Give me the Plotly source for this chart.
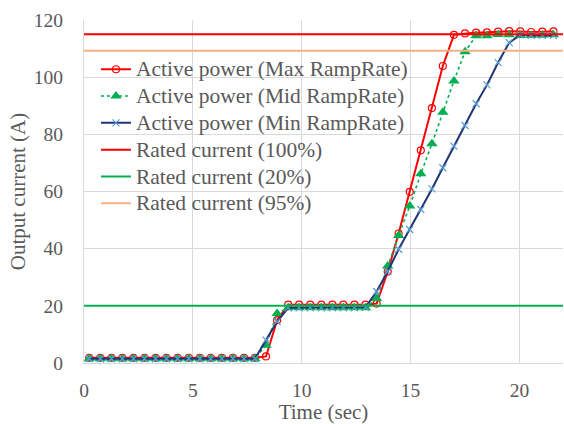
import plotly.graph_objects as go

# Sample times (s), shared by the three ramp-rate runs
time_s = [0.24, 0.75, 1.26, 1.76, 2.27, 2.78, 3.29, 3.79, 4.30, 4.81,
          5.32, 5.82, 6.33, 6.84, 7.35, 7.85, 8.36, 8.87, 9.38, 9.88,
          10.39, 10.90, 11.41, 11.91, 12.42, 12.93, 13.44, 13.95, 14.45, 14.96,
          15.47, 15.98, 16.48, 16.99, 17.50, 18.01, 18.51, 19.02, 19.53, 20.04,
          20.54, 21.05, 21.56]

# Output current (A) for each ramp rate
max_ramp = [1.8, 1.8, 1.8, 1.8, 1.8, 1.8, 1.8, 1.8, 1.8, 1.8,
            1.8, 1.8, 1.8, 1.8, 1.8, 1.8, 2.3, 15.0, 20.4, 20.4,
            20.4, 20.4, 20.4, 20.4, 20.4, 20.4, 20.8, 32.0, 45.3, 59.9,
            74.4, 89.2, 103.9, 114.8, 115.3, 115.6, 115.7, 115.9, 116.1, 116.0,
            115.8, 115.9, 116.0]
mid_ramp = [1.5, 1.5, 1.5, 1.5, 1.5, 1.5, 1.5, 1.5, 1.5, 1.5,
            1.5, 1.5, 1.5, 1.5, 1.5, 1.5, 6.2, 17.3, 19.3, 19.3,
            19.3, 19.3, 19.3, 19.3, 19.3, 19.3, 22.6, 33.9, 44.6, 54.9,
            66.2, 76.7, 87.7, 98.7, 108.9, 114.5, 114.5, 114.9, 114.8, 114.6,
            114.6, 114.7, 114.8]
min_ramp = [1.5, 1.5, 1.5, 1.5, 1.5, 1.5, 1.5, 1.5, 1.5, 1.5,
            1.5, 1.5, 1.5, 1.5, 1.5, 1.5, 8.0, 14.5, 19.3, 19.3,
            19.3, 19.3, 19.3, 19.3, 19.3, 19.5, 25.0, 32.0, 39.8, 46.7,
            53.7, 60.9, 68.3, 75.9, 83.1, 90.7, 97.3, 105.1, 112.1, 114.8,
            114.6, 114.6, 114.6]

# Rated current reference levels (A) and their time span
rated_names = ["Rated current (100%)", "Rated current (20%)", "Rated current (95%)"]
rated_values = [115, 20, 109.25]
rated_colors = ["#FF0000", "#00B050", "#F4B183"]
rated_span = [0, 22]

FONT = "Liberation Serif, Times New Roman, serif"
TEXT = "#595959"
GRID = "#D9D9D9"


def legend_label(text):
    # legend rows stay compact (row height follows legend font size) while the
    # label itself is drawn a little larger
    return f'<span style="font-size:21.5px">{text}</span>'


fig = go.Figure()

fig.add_trace(go.Scatter(
    x=time_s, y=max_ramp, mode="lines+markers",
    name=legend_label("Active power (Max RampRate)"),
    line=dict(color="#FF0000", width=2),
    marker=dict(symbol="circle-open", size=7, color="#FF0000", line=dict(width=1.2)),
))
fig.add_trace(go.Scatter(
    x=time_s, y=mid_ramp, mode="lines+markers",
    name=legend_label("Active power (Mid RampRate)"),
    line=dict(color="#00B050", width=1.6, dash="dot"),
    marker=dict(symbol="triangle-up", size=10, color="#00B050"),
))
fig.add_trace(go.Scatter(
    x=time_s, y=min_ramp, mode="lines+markers",
    name=legend_label("Active power (Min RampRate)"),
    line=dict(color="#1F3470", width=2),
    marker=dict(symbol="x-thin", size=7, color="#5B9BD5",
                line=dict(width=1.2, color="#5B9BD5")),
))

for name, val, col in zip(rated_names, rated_values, rated_colors):
    fig.add_trace(go.Scatter(
        x=rated_span, y=[val, val], mode="lines", name=legend_label(name),
        line=dict(color=col, width=2),
    ))

fig.update_layout(
    width=564, height=424,
    margin=dict(l=84, r=1, t=20, b=61),
    paper_bgcolor="white", plot_bgcolor="white",
    font=dict(family=FONT, size=20, color=TEXT),
    showlegend=True,
    legend=dict(
        x=0.025, y=0.91, xanchor="left", yanchor="top",
        bgcolor="rgba(0,0,0,0)", borderwidth=0,
        font=dict(family=FONT, size=18.3, color=TEXT),
        tracegroupgap=0, itemwidth=30,
    ),
    xaxis=dict(
        range=[0, 22], tickvals=[0, 5, 10, 15, 20],
        showgrid=True, gridcolor=GRID, gridwidth=1,
        showline=True, linecolor=GRID, linewidth=1,
        zeroline=False, ticks="", ticklabelstandoff=10,
        tickfont=dict(family=FONT, size=19.5, color=TEXT),
        title=dict(text="Time (sec)", font=dict(family=FONT, size=21, color=TEXT), standoff=4),
    ),
    yaxis=dict(
        range=[0, 120], tickvals=[0, 20, 40, 60, 80, 100, 120],
        showgrid=True, gridcolor=GRID, gridwidth=1,
        showline=True, linecolor=GRID, linewidth=1,
        zeroline=False, ticks="", ticklabelstandoff=16,
        tickfont=dict(family=FONT, size=19.5, color=TEXT),
        title=dict(text="Output current (A)", font=dict(family=FONT, size=21, color=TEXT), standoff=2),
    ),
)

fig.write_html("out.html")
